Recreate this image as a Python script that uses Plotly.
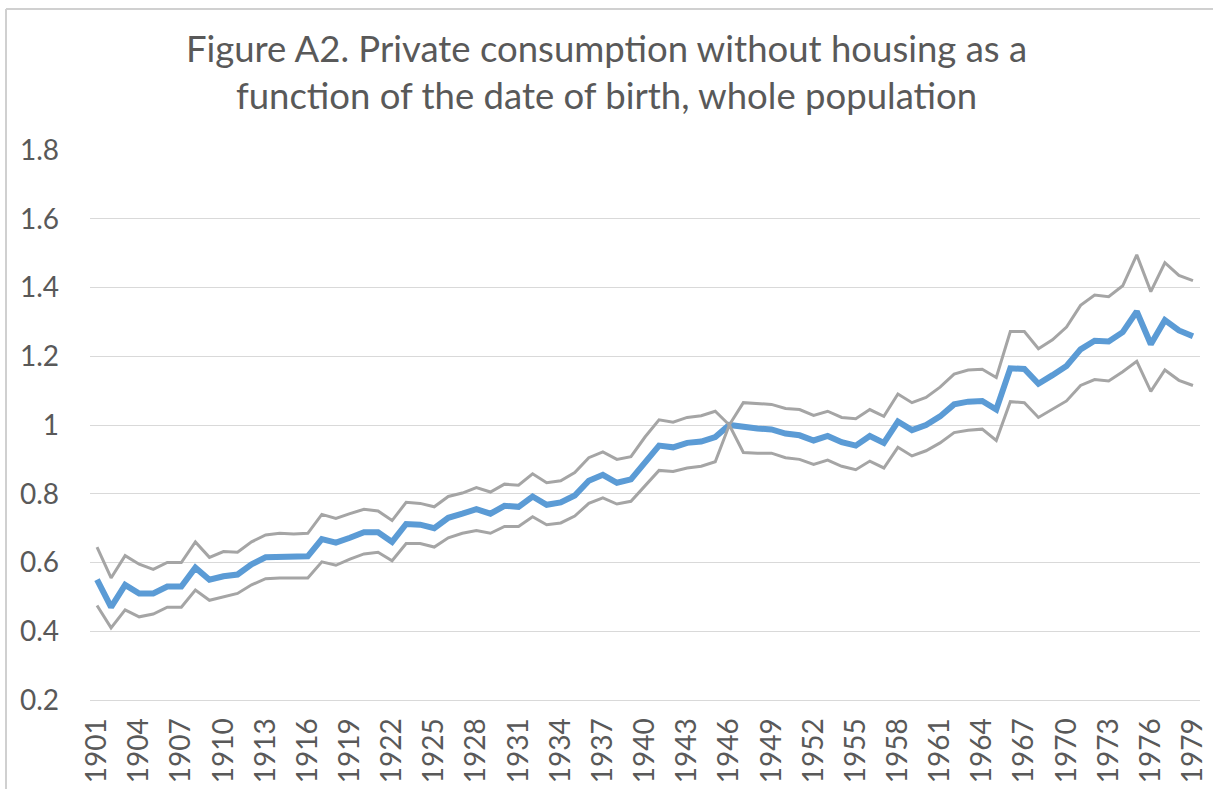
import plotly.graph_objects as go

years = list(range(1901, 1980))

central = [0.55, 0.47, 0.535, 0.51, 0.51, 0.53, 0.53, 0.585, 0.55, 0.56,
           0.565, 0.595, 0.615, 0.617, 0.618, 0.618, 0.668, 0.658, 0.672, 0.688,
           0.688, 0.66, 0.712, 0.71, 0.70, 0.73, 0.742, 0.755, 0.742, 0.765,
           0.762, 0.792, 0.768, 0.775, 0.795, 0.838, 0.855, 0.832, 0.842, 0.89,
           0.94, 0.935, 0.948, 0.952, 0.965, 1.0, 0.993, 0.99, 0.987, 0.975,
           0.97, 0.955, 0.968, 0.95, 0.94, 0.968, 0.948, 1.01, 0.985, 1.0,
           1.025, 1.06, 1.068, 1.07, 1.045, 1.165, 1.163, 1.12, 1.145, 1.172,
           1.22, 1.245, 1.243, 1.27, 1.33, 1.235, 1.305, 1.275, 1.258]

upper = [0.645, 0.555, 0.62, 0.595, 0.58, 0.60, 0.60, 0.66, 0.615, 0.632,
         0.63, 0.66, 0.68, 0.685, 0.683, 0.685, 0.74, 0.728, 0.742, 0.755,
         0.75, 0.722, 0.775, 0.772, 0.762, 0.792, 0.802, 0.818, 0.805, 0.828,
         0.825, 0.858, 0.832, 0.838, 0.862, 0.905, 0.922, 0.90, 0.908, 0.965,
         1.015, 1.008, 1.022, 1.027, 1.04, 1.0, 1.065, 1.063, 1.06, 1.048,
         1.045, 1.028, 1.04, 1.022, 1.018, 1.045, 1.025, 1.09, 1.065, 1.08,
         1.11, 1.148, 1.16, 1.162, 1.138, 1.272, 1.272, 1.222, 1.248, 1.285,
         1.348, 1.378, 1.373, 1.405, 1.495, 1.388, 1.472, 1.435, 1.42]

lower = [0.475, 0.41, 0.462, 0.442, 0.45, 0.47, 0.47, 0.52, 0.49, 0.50,
         0.51, 0.535, 0.553, 0.555, 0.556, 0.555, 0.602, 0.592, 0.61, 0.625,
         0.63, 0.605, 0.655, 0.655, 0.645, 0.672, 0.685, 0.693, 0.685, 0.705,
         0.705, 0.733, 0.71, 0.715, 0.735, 0.772, 0.788, 0.77, 0.778, 0.822,
         0.868, 0.865, 0.875, 0.88, 0.893, 1.0, 0.92, 0.918, 0.918, 0.905,
         0.90, 0.885, 0.898, 0.88, 0.87, 0.895, 0.875, 0.935, 0.91, 0.925,
         0.948, 0.978, 0.985, 0.988, 0.955, 1.068, 1.065, 1.022, 1.045, 1.07,
         1.115, 1.132, 1.128, 1.155, 1.185, 1.098, 1.16, 1.13, 1.115]

y_ticks = [0.2, 0.4, 0.6, 0.8, 1.0, 1.2, 1.4, 1.6, 1.8]
y_tick_labels = ["0.2", "0.4", "0.6", "0.8", "1", "1.2", "1.4", "1.6", "1.8"]
x_ticks = years[::3]

title_text = ("Figure A2. Private consumption without housing as a<br>"
              "function of the date of birth, whole population")

FONT = "Lato, 'Open Sans', sans-serif"
TXT = "#595959"

L, R, T, B = 90, 13, 150, 89
PW, PH = 1213 - L - R, 789 - T - B

fig = go.Figure()
fig.add_trace(go.Scatter(x=years, y=central, mode="lines", name="Central",
                         line=dict(color="#5B9BD5", width=6), showlegend=False))
fig.add_trace(go.Scatter(x=years, y=upper, mode="lines", name="Upper",
                         line=dict(color="#A5A5A5", width=3), showlegend=False))
fig.add_trace(go.Scatter(x=years, y=lower, mode="lines", name="Lower",
                         line=dict(color="#A5A5A5", width=3), showlegend=False))

fig.update_layout(
    width=1213, height=789,
    margin=dict(l=L, r=R, t=T, b=B, autoexpand=False),
    paper_bgcolor="white", plot_bgcolor="white",
    title=dict(text=title_text, x=0.5, xref="container", xanchor="center",
               y=0.922, yref="container", yanchor="top",
               font=dict(family=FONT, size=36.5, color=TXT)),
    xaxis=dict(range=[1900.5, 1979.5], tickmode="array", tickvals=x_ticks,
               ticktext=[str(v) for v in x_ticks], tickangle=-90,
               showgrid=False, showline=True, linecolor="#D9D9D9", linewidth=1,
               ticks="", ticklabelstandoff=6, automargin=False,
               tickfont=dict(family=FONT, size=28, color=TXT), zeroline=False),
    yaxis=dict(range=[0.2, 1.8], tickmode="array", tickvals=y_ticks,
               ticktext=y_tick_labels, showgrid=True, gridcolor="#D9D9D9",
               gridwidth=1, zeroline=False, showline=False, ticks="",
               ticklabelstandoff=30, automargin=False,
               tickfont=dict(family=FONT, size=28, color=TXT)),
    shapes=[
        dict(type="line", xref="paper", yref="paper",
             x0=(6 - L) / PW, x1=(6 - L) / PW,
             y0=(789 - B - 789) / PH, y1=(789 - B - 9) / PH,
             line=dict(color="#D0D0D0", width=2), layer="above"),
        dict(type="line", xref="paper", yref="paper",
             x0=(6 - L) / PW, x1=(1213 - L) / PW,
             y0=(789 - B - 9) / PH, y1=(789 - B - 9) / PH,
             line=dict(color="#D0D0D0", width=2), layer="above"),
    ],
)

fig.write_html(
    "out.html",
    config={"displayModeBar": False},
    post_script="document.body.style.margin='0px';"
                "document.body.style.overflow='hidden';"
                "document.documentElement.style.overflow='hidden';",
)
